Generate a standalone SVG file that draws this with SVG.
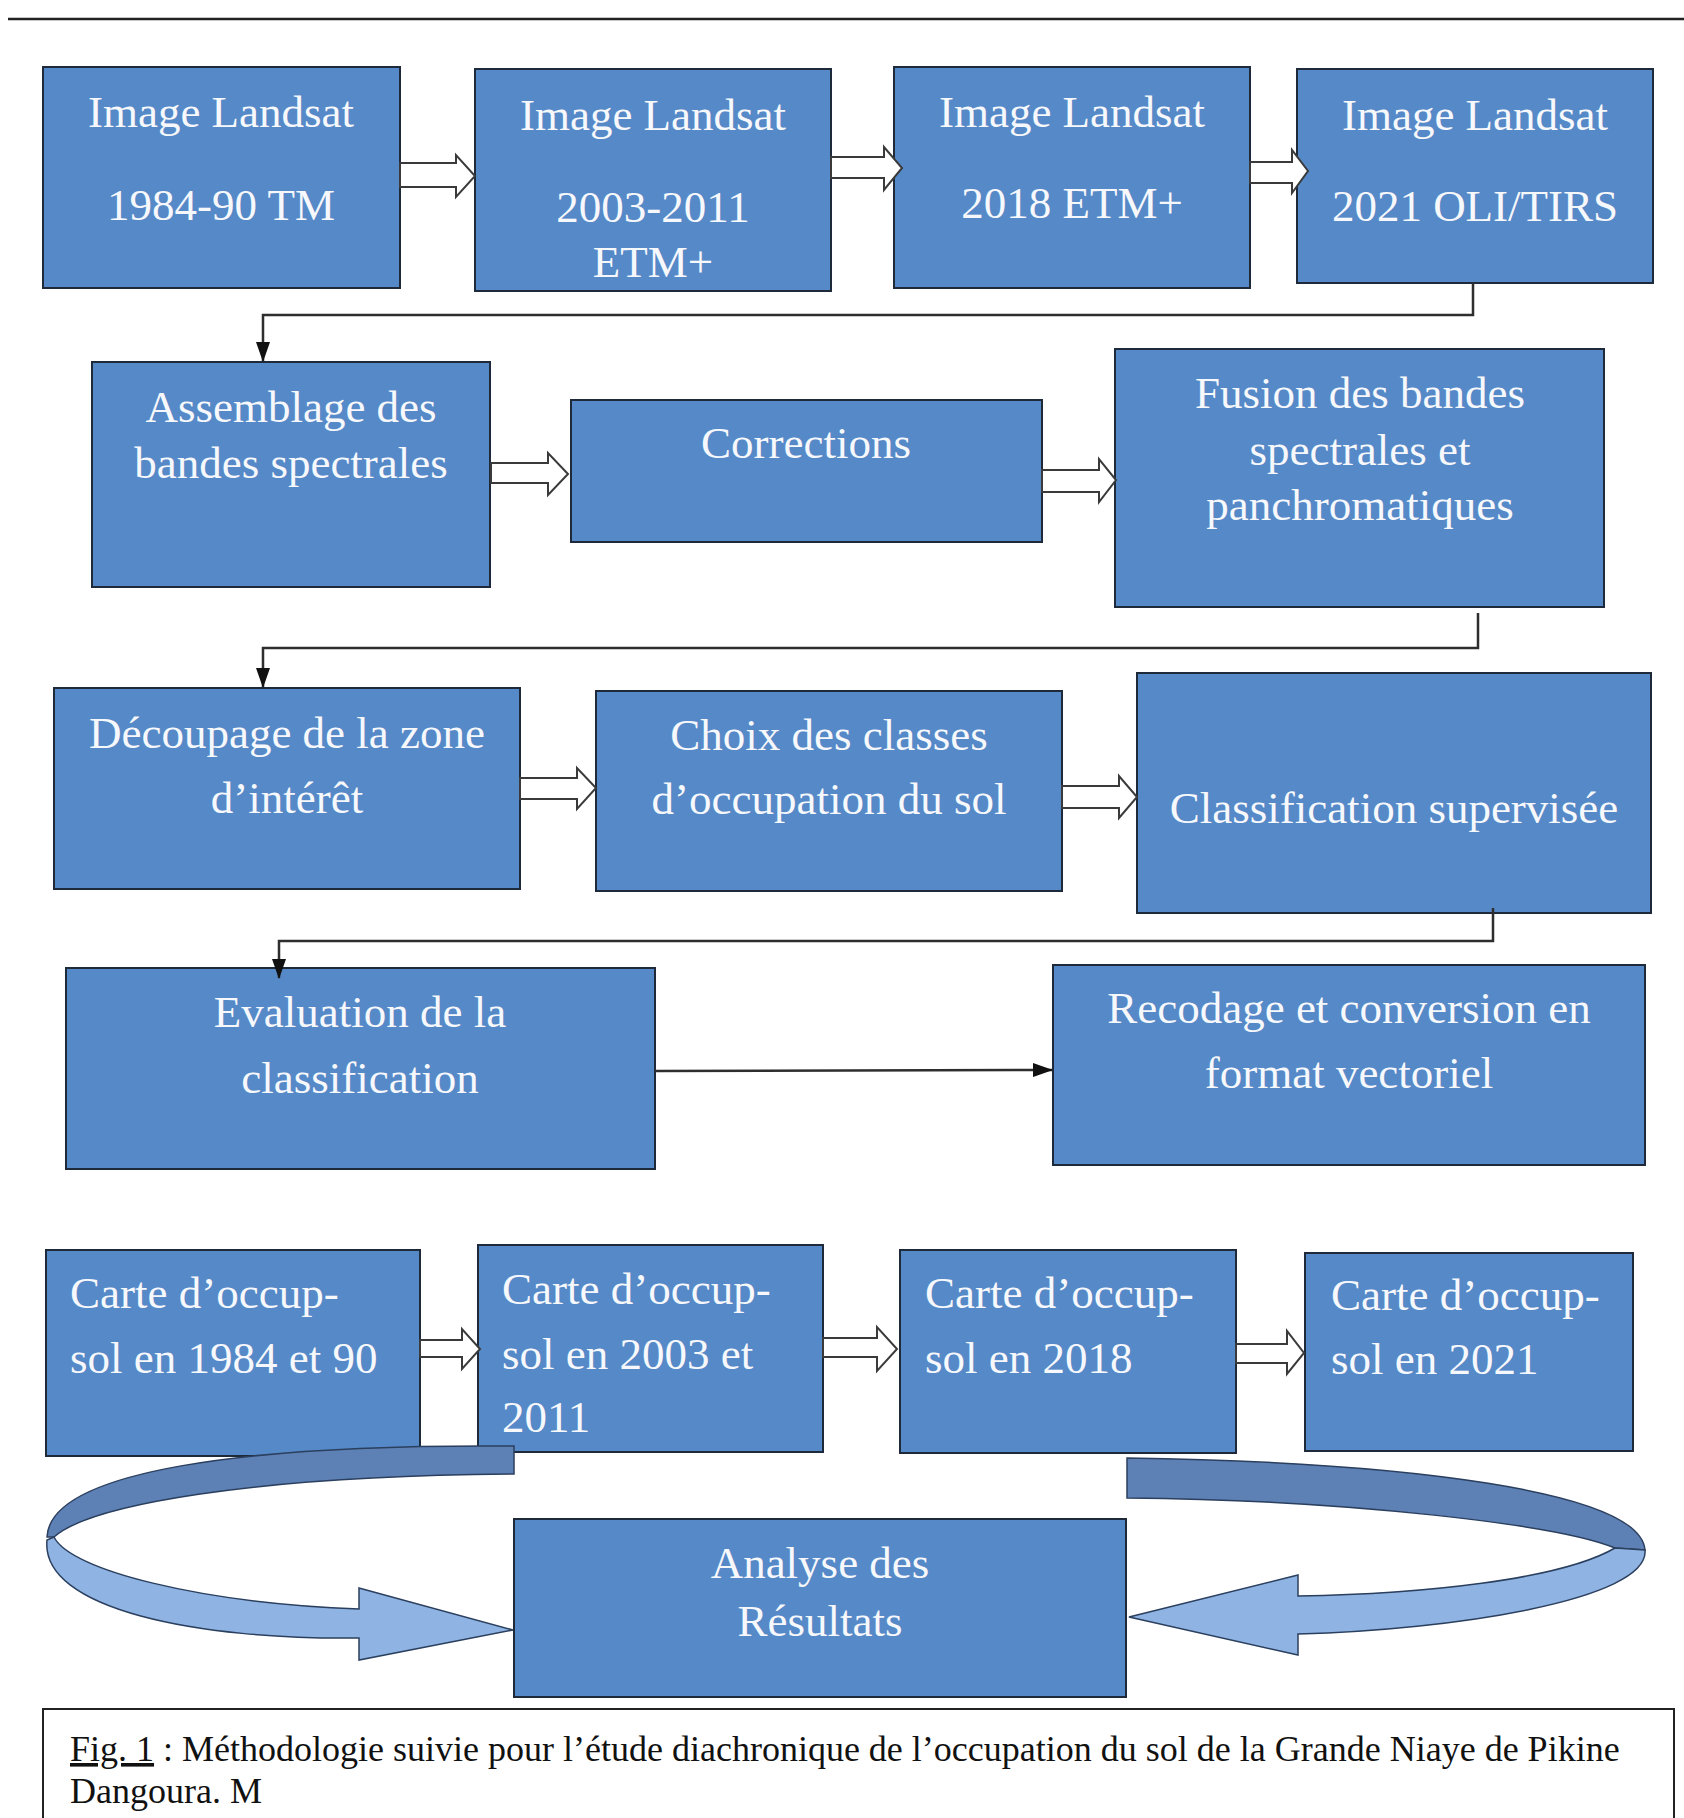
<svg xmlns="http://www.w3.org/2000/svg" width="1684" height="1818" viewBox="0 0 1684 1818">
<defs>
<style>
.box{fill:#5689c7;stroke:#1e2a3a;stroke-width:2}
.t{font-family:"Liberation Serif","Times New Roman",serif;font-size:45px;fill:#f6f8fc}
.c{text-anchor:middle}
.barrow{fill:#ffffff;stroke:#3a3a3a;stroke-width:2;stroke-linejoin:miter}
.conn{fill:none;stroke:#2e2e2e;stroke-width:2.5}
.dark{fill:#5d80b5;stroke:#2b3f5e;stroke-width:1.5}
.light{fill:#8fb4e3;stroke:#2b3f5e;stroke-width:1.5}
.cap{font-family:"Liberation Serif","Times New Roman",serif;font-size:36px;fill:#111}
</style>
<marker id="ah" viewBox="0 0 20 14" refX="19" refY="7" markerWidth="20" markerHeight="14" orient="auto" markerUnits="userSpaceOnUse">
<path d="M0,0 L20,7 L0,14 Z" fill="#111"/>
</marker>
</defs>
<rect width="1684" height="1818" fill="#ffffff"/>
<line x1="8" y1="19" x2="1684" y2="19" stroke="#222" stroke-width="2.5"/>

<g id="n1"><rect class="box" x="43" y="67" width="357" height="221"/>
<text class="t c" x="221" y="127">Image Landsat</text><text class="t c" x="221" y="220">1984-90 TM</text></g>
<g id="n2"><rect class="box" x="475" y="69" width="356" height="222"/>
<text class="t c" x="653" y="130">Image Landsat</text><text class="t c" x="653" y="222">2003-2011</text><text class="t c" x="653" y="277">ETM+</text></g>
<g id="n3"><rect class="box" x="894" y="67" width="356" height="221"/>
<text class="t c" x="1072" y="127">Image Landsat</text><text class="t c" x="1072" y="218">2018 ETM+</text></g>
<g id="n4"><rect class="box" x="1297" y="69" width="356" height="214"/>
<text class="t c" x="1475" y="130">Image Landsat</text><text class="t c" x="1475" y="221">2021 OLI/TIRS</text></g>

<g id="n5"><rect class="box" x="92" y="362" width="398" height="225"/>
<text class="t c" x="291" y="422">Assemblage des</text><text class="t c" x="291" y="478">bandes spectrales</text></g>
<g id="n6"><rect class="box" x="571" y="400" width="471" height="142"/>
<text class="t c" x="806" y="458">Corrections</text></g>
<g id="n7"><rect class="box" x="1115" y="349" width="489" height="258"/>
<text class="t c" x="1360" y="408">Fusion des bandes</text><text class="t c" x="1360" y="465">spectrales et</text><text class="t c" x="1360" y="520">panchromatiques</text></g>

<g id="n8"><rect class="box" x="54" y="688" width="466" height="201"/>
<text class="t c" x="287" y="748">Découpage de la zone</text><text class="t c" x="287" y="813">d’intérêt</text></g>
<g id="n9"><rect class="box" x="596" y="691" width="466" height="200"/>
<text class="t c" x="829" y="750">Choix des classes</text><text class="t c" x="829" y="814">d’occupation du sol</text></g>
<g id="n10"><rect class="box" x="1137" y="673" width="514" height="240"/>
<text class="t c" x="1394" y="823">Classification supervisée</text></g>

<g id="n11"><rect class="box" x="66" y="968" width="589" height="201"/>
<text class="t c" x="360" y="1027">Evaluation de la</text><text class="t c" x="360" y="1093">classification</text></g>
<g id="n12"><rect class="box" x="1053" y="965" width="592" height="200"/>
<text class="t c" x="1349" y="1023">Recodage et conversion en</text><text class="t c" x="1349" y="1088">format vectoriel</text></g>

<g id="n13"><rect class="box" x="46" y="1250" width="374" height="206"/>
<text class="t" x="70" y="1308">Carte d’occup-</text><text class="t" x="70" y="1373">sol en 1984 et 90</text></g>
<g id="n14"><rect class="box" x="478" y="1245" width="345" height="207"/>
<text class="t" x="502" y="1304">Carte d’occup-</text><text class="t" x="502" y="1369">sol en 2003 et</text><text class="t" x="502" y="1432">2011</text></g>
<g id="n15"><rect class="box" x="900" y="1250" width="336" height="203"/>
<text class="t" x="925" y="1308">Carte d’occup-</text><text class="t" x="925" y="1373">sol en 2018</text></g>
<g id="n16"><rect class="box" x="1305" y="1253" width="328" height="198"/>
<text class="t" x="1331" y="1310">Carte d’occup-</text><text class="t" x="1331" y="1374">sol en 2021</text></g>

<g id="n17"><rect class="box" x="514" y="1519" width="612" height="178"/>
<text class="t c" x="820" y="1578">Analyse des</text><text class="t c" x="820" y="1636">Résultats</text></g>

<g id="connectors">
<polygon class="barrow" points="400,163 456,163 456,155 475,176 456,197 456,187 400,187"/>
<polygon class="barrow" points="831,157 884,157 884,147 902,168 884,190 884,178 831,178"/>
<polygon class="barrow" points="1250,162 1292,162 1292,150 1308,171 1292,193 1292,183 1250,183"/>
<polygon class="barrow" points="491,463 548,463 548,453 568,474 548,495 548,483 491,483"/>
<polygon class="barrow" points="1042,470 1099,470 1099,459 1116,480 1099,502 1099,492 1042,492"/>
<polygon class="barrow" points="520,778 577,778 577,768 596,788 577,809 577,799 520,799"/>
<polygon class="barrow" points="1062,786 1119,786 1119,776 1137,797 1119,818 1119,808 1062,808"/>
<polygon class="barrow" points="420,1340 462,1340 462,1329 480,1349 462,1369 462,1357 420,1357"/>
<polygon class="barrow" points="823,1338 877,1338 877,1327 897,1349 877,1371 877,1357 823,1357"/>
<polygon class="barrow" points="1236,1344 1287,1344 1287,1331 1304,1353 1287,1374 1287,1363 1236,1363"/>
<polyline class="conn" points="1473,283 1473,315 263,315 263,361" marker-end="url(#ah)"/>
<polyline class="conn" points="1478,613 1478,648 263,648 263,687" marker-end="url(#ah)"/>
<polyline class="conn" points="1493,908 1493,941 279,941 279,978" marker-end="url(#ah)"/>
<line class="conn" x1="655" y1="1071" x2="1052" y2="1070" marker-end="url(#ah)"/>
<path class="dark" d="M514,1446 C250,1444 50,1470 47,1537 L54,1537 C90,1505 250,1476 514,1474 Z"/>
<path class="light" d="M54,1537 C70,1570 200,1603 359,1609 L359,1588 L513,1630 L359,1660 L359,1638 C200,1640 40,1610 47,1540 Z"/>
<path class="dark" d="M1127,1458 C1400,1462 1640,1490 1645,1550 L1615,1548 C1560,1525 1350,1500 1127,1498 Z"/>
<path class="light" d="M1615,1548 C1560,1580 1420,1594 1298,1596 L1298,1575 L1129,1617 L1298,1655 L1298,1634 C1450,1630 1650,1600 1645,1550 Z"/>
</g>

<g id="caption"><rect x="43" y="1709" width="1631" height="115" fill="none" stroke="#222" stroke-width="2"/>
<text class="cap" x="70" y="1761"><tspan text-decoration="underline">Fig. 1</tspan> : Méthodologie suivie pour l’étude diachronique de l’occupation du sol de la Grande Niaye de Pikine</text>
<text class="cap" x="70" y="1803">Dangoura. M</text></g>
</svg>
